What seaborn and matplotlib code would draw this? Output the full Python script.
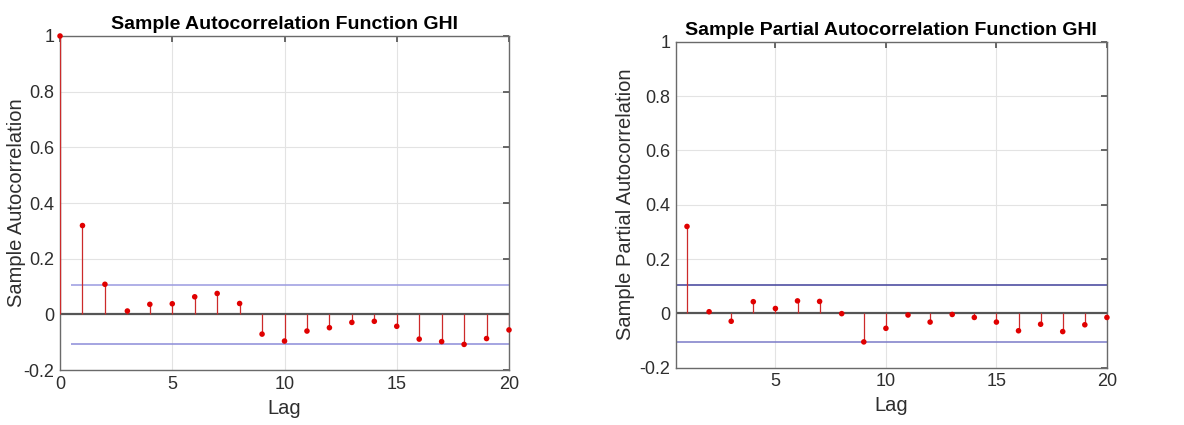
import numpy as np
import pandas as pd
import matplotlib
matplotlib.use("Agg")
import matplotlib.pyplot as plt
import seaborn as sns

# ---- data ----
acf_lags = list(range(0, 21))
acf_values = [1.0, 0.319, 0.108, 0.012, 0.036, 0.038, 0.063, 0.075, 0.039,
              -0.071, -0.096, -0.060, -0.048, -0.029, -0.025, -0.043,
              -0.089, -0.098, -0.108, -0.087, -0.056]
pacf_lags = list(range(1, 21))
pacf_values = [0.320, 0.006, -0.029, 0.043, 0.018, 0.046, 0.044, -0.001,
               -0.105, -0.055, -0.006, -0.032, -0.004, -0.015, -0.032,
               -0.064, -0.040, -0.067, -0.042, -0.015]
conf_bound = 0.105
titles = ["Sample Autocorrelation Function GHI",
          "Sample Partial Autocorrelation Function GHI"]
ylabels = ["Sample Autocorrelation", "Sample Partial Autocorrelation"]
xlabel = "Lag"
yticks = [-0.2, 0, 0.2, 0.4, 0.6, 0.8, 1]
ytick_labels = ["-0.2", "0", "0.2", "0.4", "0.6", "0.8", "1"]
acf_xticks = [0, 5, 10, 15, 20]
pacf_xticks = [5, 10, 15, 20]

sns.set_theme(style="white")
plt.rcParams["font.family"] = ["Liberation Sans", "DejaVu Sans"]

fig = plt.figure(figsize=(11.84, 4.25), dpi=100)
ax1 = fig.add_axes([0.0507, 0.1294, 0.3792, 0.7859])
ax2 = fig.add_axes([0.5709, 0.1348, 0.3640, 0.7671])

spine_col = "#6a6a6a"
text_col = "#2e2e2e"

def draw(ax, lags, vals, xlim, xticks, title, ylabel, bound_cols, ylab_x):
    df = pd.DataFrame({"lag": lags, "value": vals})
    ax.set_xlim(*xlim)
    ax.set_ylim(-0.2, 1.0)
    ax.set_xticks(xticks)
    ax.set_xticklabels([str(t) for t in xticks])
    ax.set_yticks(yticks)
    ax.set_yticklabels(ytick_labels)
    ax.grid(True, color="#e3e3e3", linewidth=0.8)
    ax.set_axisbelow(True)
    ax.axhline(0, color="#555555", linewidth=1.6, zorder=2)
    ax.hlines([conf_bound], 0.5, xlim[1], color=bound_cols[0], linewidth=1.1, zorder=2)
    ax.hlines([-conf_bound], 0.5, xlim[1], color=bound_cols[1], linewidth=1.1, zorder=2)
    ax.vlines(df["lag"], 0, df["value"], color="#cc2a2a", linewidth=0.9, zorder=3)
    sns.scatterplot(data=df, x="lag", y="value", ax=ax, color="#e00000",
                    s=16, edgecolor="none", zorder=4, clip_on=False)
    ax.set_title(title, fontsize=14, fontweight="bold", color="black", pad=5)
    ax.set_xlabel(xlabel, fontsize=14.5, color=text_col)
    ax.set_ylabel(ylabel, fontsize=14.5, color=text_col)
    ax.yaxis.set_label_coords(ylab_x, 0.5)
    ax.xaxis.set_label_coords(0.5, -0.088)
    ax.tick_params(axis="both", which="both", direction="in", length=4,
                   top=True, right=True, labelsize=13, colors=text_col,
                   color="#555555", pad=4)
    for s in ax.spines.values():
        s.set_color(spine_col)
        s.set_linewidth(1.0)
        s.set_visible(True)

draw(ax1, acf_lags, acf_values, (0, 20), acf_xticks, titles[0], ylabels[0],
     ("#9a9ae0", "#8c8cd8"), -0.076)
draw(ax2, pacf_lags, pacf_values, (0.5, 20), pacf_xticks, titles[1], ylabels[1],
     ("#40409a", "#7a7ac8"), -0.095)

fig.savefig("out.png", dpi=100)
